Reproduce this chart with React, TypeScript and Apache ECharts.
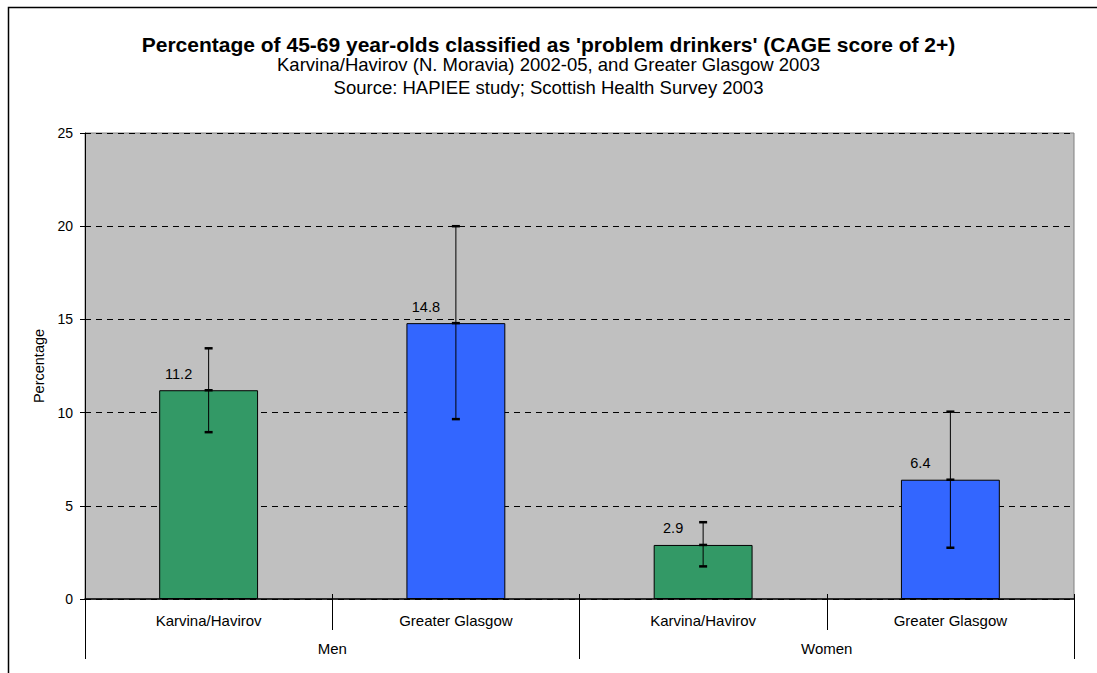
import React, { useEffect, useRef } from "react";
import * as echarts from "echarts";

const categories = ["Karvina/Havirov", "Greater Glasgow", "Karvina/Havirov", "Greater Glasgow"];
const groups = ["Men", "Women"];
const values = [11.2, 14.8, 2.9, 6.4];
const lowerCI = [8.95, 9.65, 1.75, 2.75];
const upperCI = [13.45, 20.0, 4.12, 10.05];
const barColors = ["#339966", "#3366FF", "#339966", "#3366FF"];
const yTicks = [0, 5, 10, 15, 20, 25];

const titleText = "Percentage of 45-69 year-olds classified as 'problem drinkers' (CAGE score of 2+)";
const subText1 = "Karvina/Havirov (N. Moravia) 2002-05, and Greater Glasgow 2003";
const subText2 = "Source: HAPIEE study; Scottish Health Survey 2003";

export default function App() {
  const ref = useRef<HTMLDivElement>(null);
  useEffect(() => {
    if (!ref.current) return;
    const chart = echarts.init(ref.current, null, { renderer: "svg" });
    const font = "Liberation Sans, Arial, sans-serif";
    const option: any = {
      animation: false,
      backgroundColor: "#ffffff",
      textStyle: { fontFamily: font },
      title: [
        {
          text: titleText,
          left: "center",
          top: 28.5,
          textStyle: { fontFamily: font, fontSize: 21, fontWeight: "bold", color: "#000" },
        },
        {
          text: subText1,
          left: "center",
          top: 50,
          textStyle: { fontFamily: font, fontSize: 18.5, fontWeight: "normal", color: "#000" },
        },
        {
          text: subText2,
          left: "center",
          top: 73,
          textStyle: { fontFamily: font, fontSize: 18.5, fontWeight: "normal", color: "#000" },
        },
      ],
      graphic: [
        {
          type: "rect",
          shape: { x: 8.5, y: 7.5, width: 2000, height: 2000 },
          style: { fill: "none", stroke: "#000", lineWidth: 1.5 },
          silent: true,
          z: -1,
        },
      ],
      grid: {
        left: 85,
        right: 23,
        top: 133,
        bottom: 74,
        show: true,
        backgroundColor: "#C0C0C0",
        borderColor: "#808080",
        borderWidth: 1,
      },
      xAxis: [
        {
          type: "category",
          data: categories,
          position: "bottom",
          axisLine: { show: true, lineStyle: { color: "#000", width: 1.5 } },
          axisTick: { show: true, length: 31, lineStyle: { color: "#000" } },
          axisLabel: { margin: 14, fontSize: 15, color: "#000", fontFamily: font },
          splitLine: { show: false },
        },
        {
          type: "category",
          data: groups,
          position: "bottom",
          axisLine: { show: false },
          axisTick: { show: true, length: 60, lineStyle: { color: "#000" } },
          axisLabel: { margin: 42, fontSize: 15, color: "#000", fontFamily: font },
          splitLine: { show: false },
        },
        {
          type: "category",
          data: categories,
          position: "bottom",
          axisLine: { show: false },
          axisTick: { show: true, inside: true, length: 5, lineStyle: { color: "#000" } },
          axisLabel: { show: false },
          splitLine: { show: false },
        },
      ],
      yAxis: {
        type: "value",
        min: yTicks[0],
        max: yTicks[yTicks.length - 1],
        interval: 5,
        name: "Percentage",
        nameLocation: "middle",
        nameGap: 36,
        nameTextStyle: { fontSize: 14.5, color: "#000", fontFamily: font },
        axisLine: { show: true, lineStyle: { color: "#000", width: 1 } },
        axisTick: { show: true, length: 5, lineStyle: { color: "#000" } },
        axisLabel: { margin: 12, fontSize: 14, color: "#000", fontFamily: font },
        splitLine: { show: true, lineStyle: { color: "#000", type: [6, 5], width: 1 } },
      },
      series: [
        {
          type: "bar",
          xAxisIndex: 0,
          barCategoryGap: "60%",
          data: values.map((v, i) => ({
            value: v,
            itemStyle: { color: barColors[i], borderColor: "#000", borderWidth: 1 },
          })),
          label: {
            show: true,
            position: "top",
            distance: 9,
            offset: [-30, 0],
            fontSize: 14.5,
            color: "#000",
            fontFamily: font,
            formatter: (p: any) => p.value.toFixed(1),
          },
          z: 2,
        },
        {
          type: "custom",
          xAxisIndex: 0,
          data: values.map((v, i) => [i, v, lowerCI[i], upperCI[i]]),
          renderItem: (params: any, api: any) => {
            const x = api.value(0);
            const mid = api.coord([x, api.value(1)]);
            const lo = api.coord([x, api.value(2)]);
            const hi = api.coord([x, api.value(3)]);
            const cx = mid[0];
            const hw = 4;
            const cap = (y: number) => ({
              type: "line",
              shape: { x1: cx - hw, y1: y, x2: cx + hw, y2: y },
              style: { stroke: "#000", lineWidth: 2.5 },
            });
            return {
              type: "group",
              children: [
                {
                  type: "line",
                  shape: { x1: cx, y1: lo[1], x2: cx, y2: hi[1] },
                  style: { stroke: "#000", lineWidth: 1 },
                },
                cap(lo[1]),
                cap(mid[1]),
                cap(hi[1]),
              ],
            };
          },
          z: 5,
        },
      ],
    };
    chart.setOption(option);
    return () => chart.dispose();
  }, []);
  return (
    <div
      ref={ref}
      style={{ position: "fixed", left: 0, top: 0, width: 1097, height: 673 }}
    />
  );
}
